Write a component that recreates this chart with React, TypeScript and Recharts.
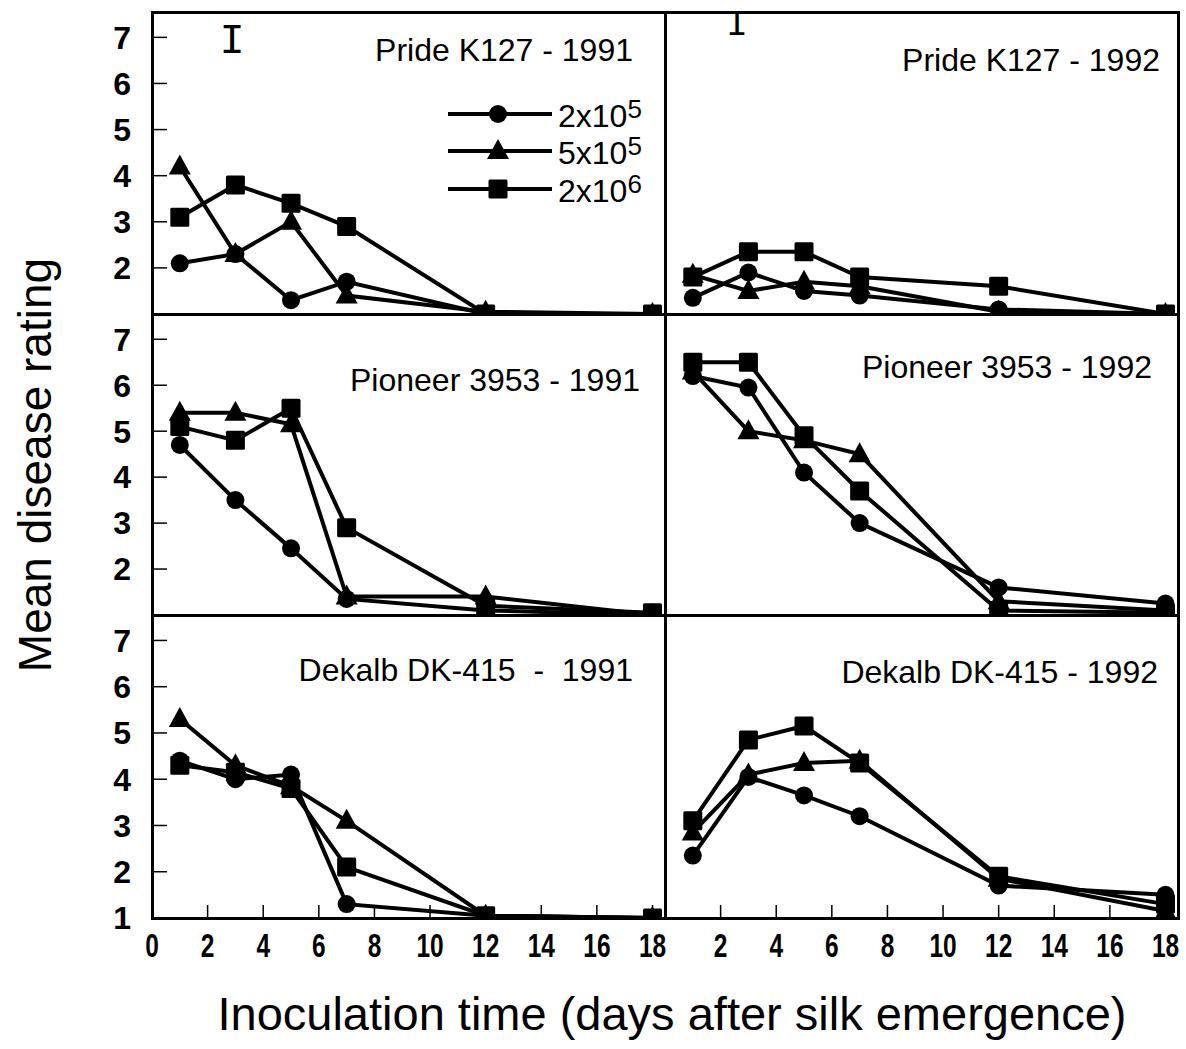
import React from "react";
import { LineChart, Line, XAxis, YAxis } from "recharts";

// inoculation days and dose levels
const DAYS = [1, 3, 5, 7, 12, 18];
const DOSE_BASE = ["2x10", "5x10", "2x10"];
const DOSE_EXP = ["5", "5", "6"];
const SERIES_KEYS = ["low", "mid", "high"];
const MARKERS = ["circle", "triangle", "square"];

const X_TICKS_INNER = [2, 4, 6, 8, 10, 12, 14, 16];
const X_TICKS_BOTTOM_LEFT = [0, 2, 4, 6, 8, 10, 12, 14, 16, 18];
const X_TICKS_BOTTOM_RIGHT = [2, 4, 6, 8, 10, 12, 14, 16, 18];
const Y_TICKS_UPPER = [2, 3, 4, 5, 6, 7];
const Y_TICKS_LOWER = [1, 2, 3, 4, 5, 6, 7];

const TITLES = [
  "Pride K127 - 1991",
  "Pride K127 - 1992",
  "Pioneer 3953 - 1991",
  "Pioneer 3953 - 1992",
  "Dekalb DK-415  -  1991",
  "Dekalb DK-415 - 1992",
];

// mean disease rating, per dose (2x10^5, 5x10^5, 2x10^6)
const PRIDE_91_LOW = [2.1, 2.3, 1.3, 1.7, 1.0, 1.0];
const PRIDE_91_MID = [4.2, 2.3, 3.0, 1.4, 1.05, 1.0];
const PRIDE_91_HIGH = [3.1, 3.8, 3.4, 2.9, 1.0, 1.0];
const PRIDE_92_LOW = [1.35, 1.9, 1.5, 1.4, 1.1, 1.0];
const PRIDE_92_MID = [1.85, 1.5, 1.7, 1.6, 1.05, 1.0];
const PRIDE_92_HIGH = [1.8, 2.35, 2.35, 1.8, 1.6, 1.0];
const PIONEER_91_LOW = [4.7, 3.5, 2.45, 1.35, 1.1, 1.0];
const PIONEER_91_MID = [5.4, 5.4, 5.15, 1.4, 1.4, 1.0];
const PIONEER_91_HIGH = [5.1, 4.8, 5.5, 2.9, 1.2, 1.05];
const PIONEER_92_LOW = [6.2, 5.95, 4.1, 3.0, 1.6, 1.25];
const PIONEER_92_MID = [6.3, 5.0, 4.8, 4.5, 1.3, 1.1];
const PIONEER_92_HIGH = [6.5, 6.5, 4.9, 3.7, 1.1, 1.05];
const DEKALB_91_LOW = [4.4, 4.0, 4.1, 1.3, 1.05, 1.0];
const DEKALB_91_MID = [5.3, 4.3, 3.85, 3.1, 1.05, 1.0];
const DEKALB_91_HIGH = [4.3, 4.15, 3.8, 2.1, 1.05, 1.0];
const DEKALB_92_LOW = [2.35, 4.05, 3.65, 3.2, 1.7, 1.5];
const DEKALB_92_MID = [2.85, 4.1, 4.35, 4.4, 1.85, 1.15];
const DEKALB_92_HIGH = [3.1, 4.85, 5.15, 4.35, 1.9, 1.3];

const PANEL_SERIES = [
  [PRIDE_91_LOW, PRIDE_91_MID, PRIDE_91_HIGH],
  [PRIDE_92_LOW, PRIDE_92_MID, PRIDE_92_HIGH],
  [PIONEER_91_LOW, PIONEER_91_MID, PIONEER_91_HIGH],
  [PIONEER_92_LOW, PIONEER_92_MID, PIONEER_92_HIGH],
  [DEKALB_91_LOW, DEKALB_91_MID, DEKALB_91_HIGH],
  [DEKALB_92_LOW, DEKALB_92_MID, DEKALB_92_HIGH],
];

// layout
const PLOT_LEFT = [152, 665];
const PLOT_WIDTH = [513, 513];
const PLOT_TOP = [12, 314, 615];
const PLOT_HEIGHT = [302, 301, 303];
const X_MAX = 18.45;
const Y_MAX = 7.55;
const Y_AXIS_W = 92;
const X_AXIS_H = 60;
const TITLE_RIGHT = [[633, 1160], [640, 1152], [633, 1158]];
const TITLE_MID = [[50, 60], [380, 367], [670, 672]];

const SANS = "'Liberation Sans', Arial, sans-serif";

function Marker({ kind, cx, cy }: { kind: string; cx: number; cy: number }) {
  if (kind === "circle") return <circle cx={cx} cy={cy} r={9} fill="#000" />;
  if (kind === "triangle")
    return <path d={`M${cx},${cy - 12}L${cx - 11},${cy + 8}L${cx + 11},${cy + 8}Z`} fill="#000" />;
  return <rect x={cx - 9.5} y={cy - 9.5} width={19} height={19} rx={1.5} fill="#000" />;
}

// condensed bold labels like the original's narrow face
function NarrowTick(props: any) {
  const { x, y, payload } = props;
  return (
    <text
      transform={`translate(${x},${y}) scale(0.72,1)`}
      textAnchor="middle"
      dy={24}
      fill="#000"
      fontSize={34}
      fontWeight={700}
      fontFamily={SANS}
    >
      {payload.value}
    </text>
  );
}

function Panel({ idx }: { idx: number }) {
  const row = Math.floor(idx / 2);
  const col = idx % 2;
  const [low, mid, high] = PANEL_SERIES[idx];
  const data = DAYS.map((day, i) => ({ day, low: low[i], mid: mid[i], high: high[i] }));
  const isLeft = col === 0;
  const isBottom = row === 2;
  const yW = isLeft ? Y_AXIS_W : 0;
  const xH = isBottom ? X_AXIS_H : 0;
  const padR = isBottom ? 20 : 0;
  const pw = PLOT_WIDTH[col];
  const ph = PLOT_HEIGHT[row];
  const width = pw + yW + padR;
  const height = ph + xH;
  const xTicks = isBottom ? (isLeft ? X_TICKS_BOTTOM_LEFT : X_TICKS_BOTTOM_RIGHT) : X_TICKS_INNER;

  return (
    <div style={{ position: "absolute", left: PLOT_LEFT[col] - yW, top: PLOT_TOP[row], width, height }}>
      <LineChart width={width} height={height} data={data} margin={{ top: 0, right: padR, bottom: 0, left: 0 }}>
        <XAxis
          type="number"
          dataKey="day"
          domain={[0, X_MAX]}
          ticks={xTicks}
          interval={0}
          height={xH}
          axisLine={false}
          tickSize={-13}
          tickMargin={28}
          tickLine={{ stroke: "#000", strokeWidth: 1.5 }}
          tick={isBottom ? <NarrowTick /> : false}
          allowDataOverflow
        />
        <YAxis
          type="number"
          domain={[1, Y_MAX]}
          ticks={isBottom ? Y_TICKS_LOWER : Y_TICKS_UPPER}
          interval={0}
          width={yW}
          hide={!isLeft}
          axisLine={false}
          tickSize={-15}
          tickMargin={36}
          tickLine={{ stroke: "#000", strokeWidth: 1.5 }}
          tick={{ fill: "#000", fontSize: 32, fontWeight: 700, fontFamily: SANS }}
          allowDataOverflow
        />
        {SERIES_KEYS.map((key, s) => (
          <Line
            key={key}
            type="linear"
            dataKey={key}
            stroke="#000"
            strokeWidth={4}
            isAnimationActive={false}
            dot={(p: any) => <Marker key={`${key}-${p.index}`} kind={MARKERS[s]} cx={p.cx} cy={p.cy} />}
            activeDot={false}
          />
        ))}
      </LineChart>
      <div
        style={{
          position: "absolute",
          left: yW - 1.5,
          top: -1.5,
          width: pw + 3,
          height: ph + 3,
          border: "3px solid #000",
          boxSizing: "border-box",
          pointerEvents: "none",
        }}
      />
    </div>
  );
}

function PanelTitle({ idx }: { idx: number }) {
  const row = Math.floor(idx / 2);
  const col = idx % 2;
  const right = TITLE_RIGHT[row][col];
  return (
    <div
      style={{
        position: "absolute",
        left: right - 400,
        width: 400,
        top: TITLE_MID[row][col] - 16,
        textAlign: "right",
        fontFamily: SANS,
        fontSize: 32,
        lineHeight: "32px",
        whiteSpace: "pre",
        color: "#000",
      }}
    >
      {TITLES[idx]}
    </div>
  );
}

function DoseLegend() {
  return (
    <div style={{ position: "absolute", left: 446, top: 95 }}>
      {DOSE_BASE.map((base, i) => (
        <div key={i} style={{ display: "flex", alignItems: "center", height: 37.5 }}>
          <svg width={108} height={30}>
            <line x1={2} y1={15} x2={106} y2={15} stroke="#000" strokeWidth={4} />
            <Marker kind={MARKERS[i]} cx={52} cy={15} />
          </svg>
          <span style={{ fontFamily: SANS, fontSize: 32, lineHeight: "32px", marginLeft: 4, color: "#000", position: "relative", top: 3 }}>
            {base}
            <span style={{ fontSize: 26, position: "relative", top: -9 }}>{DOSE_EXP[i]}</span>
          </span>
        </div>
      ))}
    </div>
  );
}

function LsdBar({ x, y, size }: { x: number; y: number; size: number }) {
  return (
    <div
      style={{
        position: "absolute",
        left: x - 25,
        width: 50,
        top: y,
        textAlign: "center",
        fontFamily: "'Liberation Mono', 'DejaVu Sans Mono', monospace",
        fontSize: size,
        lineHeight: `${size - 6}px`,
        color: "#000",
      }}
    >
      I
    </div>
  );
}

export default function App() {
  return (
    <div style={{ position: "absolute", left: 0, top: 0, width: 1186, height: 1049, background: "#fff", overflow: "hidden" }}>
      {TITLES.map((_, i) => (
        <Panel key={i} idx={i} />
      ))}
      {TITLES.map((_, i) => (
        <PanelTitle key={`t${i}`} idx={i} />
      ))}
      <DoseLegend />
      <LsdBar x={232} y={24} size={42} />
      <LsdBar x={737} y={11} size={36} />
      <div
        style={{
          position: "absolute",
          left: 35 - 300,
          top: 465 - 24,
          width: 600,
          height: 48,
          lineHeight: "48px",
          textAlign: "center",
          transform: "rotate(-90deg)",
          fontFamily: SANS,
          fontSize: 46,
          color: "#000",
        }}
      >
        Mean disease rating
      </div>
      <div
        style={{
          position: "absolute",
          left: 672 - 500,
          width: 1000,
          top: 990,
          textAlign: "center",
          fontFamily: SANS,
          fontSize: 47,
          lineHeight: "47px",
          color: "#000",
        }}
      >
        Inoculation time (days after silk emergence)
      </div>
    </div>
  );
}
